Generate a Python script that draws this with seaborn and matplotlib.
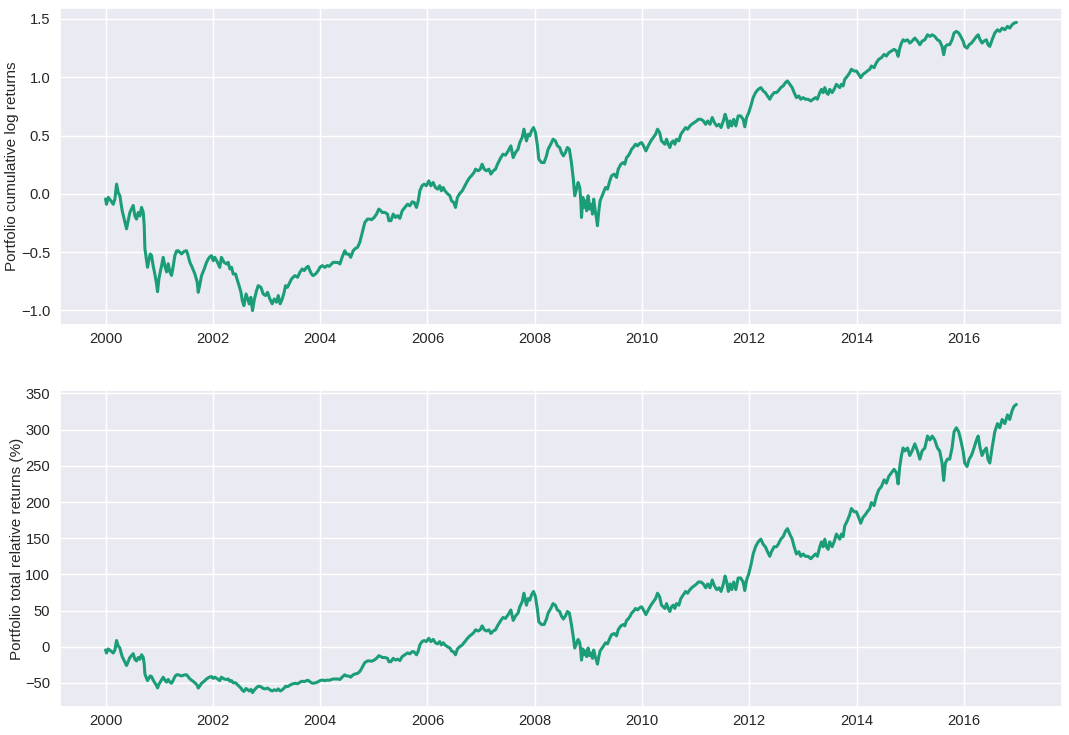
import numpy as np
import pandas as pd
import matplotlib
matplotlib.use("Agg")
import matplotlib.pyplot as plt
import matplotlib.dates as mdates
from matplotlib.ticker import MultipleLocator
import seaborn as sns

sns.set_theme(style="darkgrid")
plt.rcParams["font.family"] = ["Liberation Sans", "DejaVu Sans"]

# decimal years of the sampled observations
years = [
    2000.0, 2000.019, 2000.05, 2000.10, 2000.144, 2000.175, 2000.206, 2000.237, 2000.268, 2000.286,
    2000.311, 2000.349, 2000.392, 2000.423, 2000.454, 2000.485, 2000.516, 2000.547, 2000.578, 2000.61,
    2000.64, 2000.672, 2000.703, 2000.721, 2000.734, 2000.752, 2000.783, 2000.808, 2000.833, 2000.858,
    2000.889, 2000.92, 2000.951, 2000.97, 2000.995, 2001.02, 2001.044, 2001.075, 2001.107, 2001.138,
    2001.169, 2001.2, 2001.231, 2001.262, 2001.293, 2001.324,
    2001.355, 2001.417, 2001.466, 2001.51, 2001.54, 2001.573, 2001.616, 2001.666, 2001.71, 2001.728,
    2001.76, 2001.79, 2001.84, 2001.883, 2001.914, 2001.945, 2001.976, 2002.007, 2002.038, 2002.088,
    2002.13, 2002.16, 2002.21, 2002.256, 2002.287, 2002.318, 2002.35, 2002.38, 2002.424, 2002.46,
    2002.49, 2002.525, 2002.55, 2002.58, 2002.62, 2002.65, 2002.68, 2002.71, 2002.74, 2002.77, 2002.815,
    2002.846, 2002.896, 2002.94, 2002.983, 2003.02, 2003.064, 2003.107, 2003.145, 2003.188, 2003.22,
    2003.256, 2003.294, 2003.33, 2003.355, 2003.39, 2003.436, 2003.467, 2003.498, 2003.53, 2003.58,
    2003.623, 2003.666, 2003.704, 2003.747, 2003.778, 2003.81, 2003.84, 2003.87, 2003.915, 2003.965,
    2003.996, 2004.04, 2004.09, 2004.132, 2004.17, 2004.213, 2004.245, 2004.288, 2004.337,
    2004.37, 2004.41, 2004.46, 2004.49, 2004.535, 2004.57, 2004.617, 2004.66, 2004.697, 2004.74,
    2004.772, 2004.803, 2004.834, 2004.884, 2004.927, 2004.958, 2005.008, 2005.052, 2005.095, 2005.133,
    2005.158, 2005.207, 2005.257, 2005.282, 2005.32, 2005.363, 2005.406, 2005.444, 2005.487, 2005.53,
    2005.58, 2005.63, 2005.673, 2005.717, 2005.754, 2005.797,
    2005.83, 2005.86, 2005.9, 2005.94, 2005.98, 2006.027, 2006.065, 2006.108, 2006.15, 2006.19,
    2006.23, 2006.26, 2006.295, 2006.326, 2006.376, 2006.42, 2006.45, 2006.49, 2006.524, 2006.56,
    2006.6, 2006.65, 2006.7, 2006.748, 2006.79, 2006.82, 2006.87, 2006.898, 2006.948, 2006.985,
    2007.02, 2007.06, 2007.1, 2007.146, 2007.183, 2007.227, 2007.27, 2007.307,
    2007.37, 2007.41, 2007.456, 2007.506, 2007.556, 2007.6, 2007.643, 2007.69, 2007.722, 2007.766,
    2007.8, 2007.847, 2007.88, 2007.91, 2007.94, 2007.978, 2008.015, 2008.052, 2008.077, 2008.127,
    2008.176, 2008.22, 2008.25, 2008.3, 2008.343, 2008.386, 2008.424, 2008.467, 2008.498, 2008.536,
    2008.573, 2008.61, 2008.647, 2008.685, 2008.72, 2008.747, 2008.785,
    2008.81, 2008.84, 2008.86, 2008.873, 2008.898, 2008.92, 2008.946, 2008.97, 2008.996, 2009.027,
    2009.058, 2009.077, 2009.1, 2009.133, 2009.15, 2009.17, 2009.196, 2009.22, 2009.246, 2009.283,
    2009.32, 2009.358, 2009.4, 2009.433, 2009.483, 2009.526, 2009.557, 2009.607, 2009.65, 2009.68,
    2009.713, 2009.744, 2009.78, 2009.806, 2009.837, 2009.88, 2009.918, 2009.955, 2009.993, 2010.03,
    2010.073, 2010.117, 2010.167, 2010.21, 2010.254, 2010.29,
    2010.33, 2010.364, 2010.395, 2010.427, 2010.458, 2010.49, 2010.52, 2010.55, 2010.582, 2010.613,
    2010.644, 2010.688, 2010.725, 2010.77, 2010.813, 2010.85, 2010.895, 2010.926, 2010.976, 2011.02,
    2011.05, 2011.1, 2011.144, 2011.188, 2011.225, 2011.268, 2011.31, 2011.35, 2011.393, 2011.437,
    2011.474, 2011.517, 2011.55, 2011.58, 2011.61, 2011.643, 2011.673, 2011.71, 2011.75,
    2011.793, 2011.84, 2011.886, 2011.917, 2011.95, 2011.99, 2012.03, 2012.073, 2012.117, 2012.167,
    2012.216, 2012.26, 2012.3, 2012.34, 2012.383, 2012.414, 2012.464, 2012.508, 2012.54, 2012.588,
    2012.632, 2012.675, 2012.712, 2012.756, 2012.8, 2012.837, 2012.88, 2012.925, 2012.96, 2013.004,
    2013.048, 2013.097, 2013.147, 2013.19, 2013.234, 2013.27,
    2013.315, 2013.346, 2013.377, 2013.408, 2013.44, 2013.47, 2013.5, 2013.545, 2013.582, 2013.625,
    2013.656, 2013.687, 2013.718, 2013.75, 2013.78, 2013.83, 2013.873, 2013.904, 2013.954, 2013.997,
    2014.04, 2014.078, 2014.12, 2014.165, 2014.2, 2014.246, 2014.277, 2014.327, 2014.37, 2014.414,
    2014.464, 2014.514, 2014.557, 2014.6, 2014.65, 2014.7, 2014.744,
    2014.775, 2014.806, 2014.837, 2014.868, 2014.9, 2014.95, 2014.993, 2015.036, 2015.086, 2015.136,
    2015.18, 2015.223, 2015.273, 2015.323, 2015.366, 2015.41, 2015.458, 2015.508, 2015.55, 2015.594,
    2015.625, 2015.656, 2015.694, 2015.737, 2015.78, 2015.818, 2015.86, 2015.905, 2015.942, 2015.986,
    2016.017, 2016.06, 2016.1, 2016.142, 2016.19, 2016.236, 2016.267, 2016.304, 2016.34, 2016.377,
    2016.42, 2016.45, 2016.484, 2016.527, 2016.577, 2016.627, 2016.67, 2016.714, 2016.764, 2016.814,
    2016.855, 2016.9, 2016.936, 2016.98,
]

# portfolio cumulative log returns
cum_log_returns = [
    -0.045, -0.09, -0.03, -0.06, -0.09, -0.045, 0.083, 0.011, -0.017, -0.074,
    -0.146, -0.217, -0.30, -0.23, -0.16, -0.13, -0.10, -0.19, -0.217, -0.16,
    -0.19, -0.117, -0.16, -0.27, -0.47, -0.53, -0.63, -0.57, -0.516, -0.53,
    -0.62, -0.69, -0.77, -0.84, -0.73, -0.67, -0.62, -0.545, -0.62, -0.67,
    -0.60, -0.67, -0.70, -0.62, -0.53, -0.49,
    -0.488, -0.516, -0.494, -0.488, -0.531, -0.588, -0.631, -0.688, -0.759, -0.845,
    -0.774, -0.702, -0.645, -0.588, -0.560, -0.54, -0.531, -0.574, -0.545, -0.588,
    -0.631, -0.545, -0.588, -0.602, -0.588, -0.645, -0.631, -0.688, -0.688, -0.745,
    -0.788, -0.845, -0.916, -0.959, -0.859, -0.902, -0.945, -0.888, -1.002, -0.916, -0.831,
    -0.788, -0.802, -0.859, -0.873, -0.845, -0.902, -0.944, -0.902, -0.93, -0.873,
    -0.944, -0.902, -0.845, -0.788, -0.802, -0.759, -0.731, -0.716, -0.702, -0.716,
    -0.674, -0.645, -0.659, -0.631, -0.622, -0.659, -0.688, -0.702, -0.688, -0.659,
    -0.631, -0.616, -0.631, -0.616, -0.622, -0.602, -0.588, -0.588, -0.59,
    -0.602, -0.545, -0.488, -0.517, -0.517, -0.545, -0.488, -0.468, -0.46, -0.417,
    -0.36, -0.303, -0.246, -0.217, -0.217, -0.223, -0.203, -0.174, -0.131, -0.146,
    -0.16, -0.16, -0.174, -0.231, -0.231, -0.174, -0.203, -0.188, -0.211, -0.146,
    -0.117, -0.089, -0.103, -0.069, -0.074, -0.117,
    -0.06, 0.026, 0.069, 0.083, 0.069, 0.111, 0.069, 0.097, 0.054, 0.040,
    0.069, 0.026, 0.054, 0.026, 0.0, -0.017, -0.06, -0.074, -0.117, -0.031,
    0.0, 0.026, 0.069, 0.111, 0.14, 0.154, 0.183, 0.211, 0.197, 0.211,
    0.254, 0.211, 0.197, 0.211, 0.169, 0.197, 0.211, 0.254,
    0.311, 0.34, 0.331, 0.368, 0.411, 0.311, 0.354, 0.382, 0.44, 0.482,
    0.554, 0.454, 0.511, 0.497, 0.54, 0.568, 0.525, 0.411, 0.297, 0.268,
    0.268, 0.325, 0.382, 0.425, 0.468, 0.454, 0.411, 0.397, 0.354, 0.325,
    0.354, 0.397, 0.382, 0.268, 0.126, -0.017, 0.054,
    0.097, 0.054, -0.06, -0.203, -0.031, -0.117, -0.06, -0.146, -0.017, -0.131,
    -0.089, -0.174, -0.046, -0.16, -0.203, -0.274, -0.146, -0.06, -0.031, 0.011,
    0.054, 0.04, 0.111, 0.154, 0.169, 0.14, 0.211, 0.254, 0.268, 0.254,
    0.311, 0.325, 0.354, 0.382, 0.397, 0.425, 0.411, 0.431, 0.44, 0.411,
    0.368, 0.411, 0.454, 0.482, 0.511, 0.554,
    0.525, 0.454, 0.44, 0.425, 0.468, 0.425, 0.397, 0.44, 0.454, 0.425,
    0.468, 0.454, 0.511, 0.54, 0.568, 0.554, 0.582, 0.596, 0.611, 0.625,
    0.639, 0.639, 0.625, 0.596, 0.625, 0.596, 0.654, 0.611, 0.582, 0.596,
    0.568, 0.625, 0.682, 0.639, 0.568, 0.625, 0.582, 0.639, 0.582,
    0.668, 0.668, 0.639, 0.575, 0.654, 0.696, 0.754, 0.825, 0.868, 0.896,
    0.911, 0.882, 0.868, 0.839, 0.811, 0.839, 0.868, 0.868, 0.882, 0.911,
    0.925, 0.954, 0.968, 0.939, 0.911, 0.868, 0.825, 0.839, 0.811, 0.825,
    0.811, 0.811, 0.796, 0.811, 0.825, 0.811,
    0.868, 0.896, 0.868, 0.911, 0.868, 0.853, 0.896, 0.868, 0.896, 0.939,
    0.925, 0.911, 0.939, 0.925, 0.982, 1.01, 1.039, 1.068, 1.053, 1.053,
    1.025, 0.996, 1.025, 1.039, 1.053, 1.068, 1.096, 1.082, 1.125, 1.153,
    1.168, 1.196, 1.182, 1.21, 1.225, 1.239, 1.225,
    1.179, 1.25, 1.293, 1.321, 1.31, 1.321, 1.293, 1.31, 1.336, 1.31,
    1.279, 1.31, 1.321, 1.364, 1.35, 1.364, 1.35, 1.321, 1.31, 1.264,
    1.193, 1.264, 1.279, 1.279, 1.321, 1.379, 1.393, 1.379, 1.35, 1.31,
    1.264, 1.25, 1.279, 1.293, 1.321, 1.35, 1.364, 1.321, 1.293, 1.31,
    1.321, 1.279, 1.264, 1.321, 1.379, 1.407, 1.393, 1.421, 1.407, 1.436,
    1.421, 1.45, 1.464, 1.47,
]

ylabel_top = "Portfolio cumulative log returns"
ylabel_bottom = "Portfolio total relative returns (%)"

dates = pd.Timestamp("2000-01-01") + pd.to_timedelta(
    (np.asarray(years) - 2000.0) * 365.25, unit="D")
df = pd.DataFrame({"date": dates, "log_ret": cum_log_returns})
df["rel_ret"] = 100.0 * (np.exp(df["log_ret"]) - 1.0)

fig = plt.figure(figsize=(10.69, 7.35), dpi=100)
ax1 = fig.add_axes([0.0561, 0.5578, 0.9373, 0.4313])
ax2 = fig.add_axes([0.0561, 0.0381, 0.9373, 0.4313])

color = "#1b9e77"
sns.lineplot(data=df, x="date", y="log_ret", ax=ax1, color=color, linewidth=2.2)
sns.lineplot(data=df, x="date", y="rel_ret", ax=ax2, color=color, linewidth=2.2)

ax1.set_ylabel(ylabel_top, fontsize=11, labelpad=1)
ax2.set_ylabel(ylabel_bottom, fontsize=11, labelpad=1)
ax1.yaxis.set_major_locator(MultipleLocator(0.5))
ax2.yaxis.set_major_locator(MultipleLocator(50))
for ax in (ax1, ax2):
    ax.set_xlabel("")
    ax.xaxis.set_major_locator(mdates.YearLocator(2))
    ax.xaxis.set_major_formatter(mdates.DateFormatter("%Y"))
    ax.tick_params(axis="x", labelsize=10.6, length=0, pad=5)
    ax.tick_params(axis="y", labelsize=10.6, length=0, pad=7)

fig.savefig("out.png", dpi=100)
